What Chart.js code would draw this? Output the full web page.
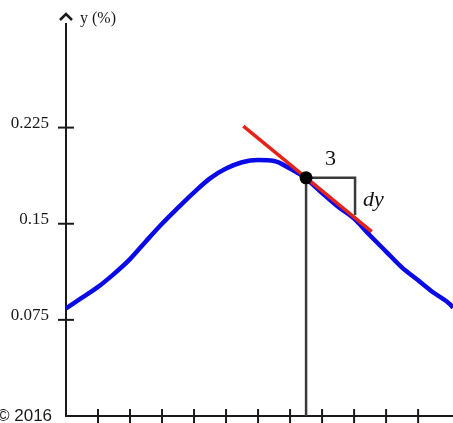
<!DOCTYPE html>
<html>
<head>
<meta charset="utf-8">
<script src="https://cdn.jsdelivr.net/npm/chart.js@4"></script>
<style>
  html, body { margin: 0; padding: 0; background: #ffffff; }
  #wrap { width: 453px; height: 423px; }
</style>
</head>
<body>
<div id="wrap"><canvas id="chart" width="453" height="423"></canvas></div>
<script>
// --- data ---
const curveX = [0, 0.5, 1, 1.5, 2, 2.5, 3, 3.5, 4, 4.5, 5, 5.5, 6, 6.5, 7, 7.5, 8, 8.5, 9, 9.5, 10, 10.5, 11, 11.5, 12, 12.09];
const curveY = [0.0840, 0.0923, 0.1007, 0.1109, 0.1224, 0.1364, 0.1500, 0.1625, 0.1745, 0.1854, 0.1930, 0.1980, 0.1997, 0.1990, 0.1930, 0.1852, 0.1740, 0.1632, 0.1540, 0.1408, 0.1283, 0.1158, 0.1059, 0.0959, 0.0871, 0.0844];

const tangentX = [5.54, 9.55];
const tangentY = [0.2262, 0.1438];

const pointX = 7.5;
const pointY = 0.1858;
const runEndX = 9.03;
const riseEndY = 0.1568;

const yTicks = [0.075, 0.15, 0.225];
const yTickLabels = ['0.075', '0.15', '0.225'];
const xTicks = [1, 2, 3, 4, 5, 6, 7, 8, 9, 10, 11];

const xMax = 12.09;
const yMax = 0.3066;

const runLabel = '3';
const riseLabel = 'dy';
const yTitle = 'y (%)';
const credit = '\u00a9 2016';

const toPts = (xs, ys) => xs.map((x, i) => ({ x: x, y: ys[i] }));

// axes, tick marks and annotation text
const axesPlugin = {
    id: 'axesPlugin',
    beforeDatasetsDraw(chart) {
        const ctx = chart.ctx;
        const xs = chart.scales.x;
        const ys = chart.scales.y;
        const x0 = xs.getPixelForValue(0);
        const y0 = ys.getPixelForValue(0);
        const top = chart.chartArea.top;

        ctx.save();
        ctx.strokeStyle = '#1a1a1a';
        ctx.lineWidth = 2;
        ctx.beginPath();
        ctx.moveTo(x0, top);
        ctx.lineTo(x0, y0);
        ctx.lineTo(chart.chartArea.right, y0);
        ctx.stroke();

        // y tick marks across the axis
        yTicks.forEach(v => {
            const py = ys.getPixelForValue(v);
            ctx.beginPath();
            ctx.moveTo(x0 - 8, py);
            ctx.lineTo(x0 + 8, py);
            ctx.stroke();
        });
        // x tick marks across the axis
        xTicks.forEach(v => {
            const px = xs.getPixelForValue(v);
            ctx.beginPath();
            ctx.moveTo(px, y0 - 7);
            ctx.lineTo(px, y0 + 8);
            ctx.stroke();
        });

        // arrow head on the y axis
        ctx.lineWidth = 2.5;
        ctx.beginPath();
        ctx.moveTo(x0 - 6, top - 3);
        ctx.lineTo(x0, top - 9);
        ctx.lineTo(x0 + 6, top - 3);
        ctx.stroke();

        ctx.fillStyle = '#1a1a1a';
        ctx.font = '16px "Liberation Serif", "Times New Roman", serif';
        ctx.textBaseline = 'middle';
        ctx.textAlign = 'left';
        ctx.fillText(yTitle, x0 + 14, top - 4);

        ctx.font = '17px "Liberation Sans", Arial, sans-serif';
        ctx.textBaseline = 'alphabetic';
        ctx.fillText(credit, -3, 421);
        ctx.restore();
    },
    afterDatasetsDraw(chart) {
        const ctx = chart.ctx;
        const xs = chart.scales.x;
        const ys = chart.scales.y;
        const pxA = xs.getPixelForValue(pointX);
        const pxB = xs.getPixelForValue(runEndX);
        const py = ys.getPixelForValue(pointY);
        const pyEnd = ys.getPixelForValue(riseEndY);

        ctx.save();
        ctx.fillStyle = '#111111';
        ctx.font = '22px "Liberation Serif", "Times New Roman", serif';
        ctx.textAlign = 'center';
        ctx.textBaseline = 'alphabetic';
        ctx.fillText(runLabel, (pxA + pxB) / 2, py - 13);

        ctx.font = 'italic 22px "Liberation Serif", "Times New Roman", serif';
        ctx.textAlign = 'left';
        ctx.fillText(riseLabel, pxB + 8, (py + pyEnd) / 2 + 10);
        ctx.restore();
    }
};

const ctx = document.getElementById('chart');
new Chart(ctx, {
    type: 'line',
    data: {
        datasets: [{
            // tangent point
            data: [{ x: pointX, y: pointY }],
            showLine: false,
            pointRadius: 6.5,
            pointBackgroundColor: '#000000',
            pointBorderWidth: 0,
            order: 0
        }, {
            // tangent line
            data: toPts(tangentX, tangentY),
            borderColor: '#e3241b',
            borderWidth: 3.5,
            pointRadius: 0,
            order: 1
        }, {
            // the curve
            data: toPts(curveX, curveY),
            borderColor: '#0a0ae6',
            borderWidth: 4.5,
            pointRadius: 0,
            cubicInterpolationMode: 'monotone',
            order: 2
        }, {
            // run and rise
            data: [{ x: pointX, y: pointY }, { x: runEndX, y: pointY }, { x: runEndX, y: riseEndY }],
            borderColor: '#3a3a3a',
            borderWidth: 2.5,
            pointRadius: 0,
            order: 3
        }, {
            // drop line to the x axis
            data: [{ x: pointX, y: 0 }, { x: pointX, y: pointY }],
            borderColor: '#3a3a3a',
            borderWidth: 2.5,
            pointRadius: 0,
            order: 3
        }]
    },
    options: {
        responsive: false,
        animation: false,
        events: [],
        layout: {
            autoPadding: false,
            padding: { top: 23, right: 0, bottom: 7, left: 0 }
        },
        plugins: {
            legend: { display: false },
            tooltip: { enabled: false }
        },
        scales: {
            x: {
                type: 'linear',
                min: 0,
                max: xMax,
                display: false
            },
            y: {
                type: 'linear',
                min: 0,
                max: yMax,
                grid: { display: false, drawTicks: false },
                border: { display: false },
                afterFit: function(scale) {
                    scale.width = 66;
                    scale.paddingTop = 0;
                    scale.paddingBottom = 0;
                },
                afterBuildTicks: function(scale) {
                    scale.ticks = yTicks.map(v => ({ value: v }));
                },
                ticks: {
                    padding: 17,
                    labelOffset: -4,
                    color: '#1a1a1a',
                    font: { family: '"Liberation Serif", "Times New Roman", serif', size: 17 },
                    callback: function(value) {
                        const i = yTicks.indexOf(value);
                        return i >= 0 ? yTickLabels[i] : '';
                    }
                }
            }
        }
    },
    plugins: [axesPlugin]
});
</script>
</body>
</html>
